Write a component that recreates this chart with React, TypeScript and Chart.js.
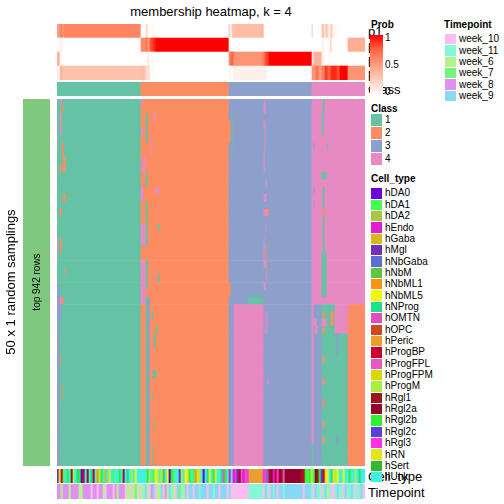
import React, { useEffect, useRef } from "react";
import { Chart, registerables } from "chart.js";
Chart.register(...registerables);

// ---------------- data ----------------
const TITLE = "membership heatmap, k = 4";
const N_COLS = 308;
const MAIN_ROWS = 50;

const classLabels = ["1", "2", "3", "4"];
const classColors = ["#66C2A5", "#FC8D62", "#8DA0CB", "#E78AC3"];
const classWidths = [84, 88, 83, 53];

const probRowNames = ["p1", "p2", "p3", "p4"];
// [startCol, endCol, probability]
const p1Segs = [
  [0, 3, 0.5], [3, 6, 0.62], [6, 7, 0.5], [7, 84, 0.62],
  [89, 91, 0.2], [96, 97, 0.08],
  [172, 173, 0.35], [173, 175, 0.05], [175, 177, 0.3], [177, 205, 0.35], [205, 207, 0.38],
  [255, 256, 0.3], [265, 267, 0.35], [267, 269, 0.15], [269, 271, 0.3], [271, 274, 0.1], [274, 276, 0.25], [276, 280, 0.05],
];
const p2Segs = [
  [3, 5, 0.08], [5, 7, 0.03],
  [84, 89, 0.6], [89, 91, 0.7], [91, 93, 0.5], [93, 96, 0.85], [96, 99, 0.95], [99, 172, 1.0],
  [172, 174, 0.05],
  [266, 267, 0.15], [273, 275, 0.2], [291, 308, 0.42],
];
const p3Segs = [
  [0, 3, 0.4], [3, 4, 0.1],
  [91, 92, 0.2], [95, 96, 0.08],
  [172, 174, 0.6], [174, 177, 0.75], [177, 205, 0.55], [205, 207, 0.6], [207, 209, 0.75], [209, 212, 0.9], [212, 255, 1.0],
  [255, 257, 0.1], [257, 265, 0.4], [265, 268, 0.05], [272, 273, 0.05],
];
const p4Segs = [
  [0, 1, 0.2], [1, 3, 0.02], [3, 6, 0.38], [6, 84, 0.32],
  [84, 88, 0.35], [88, 90, 0.25], [90, 91, 0.1], [91, 93, 0.2], [95, 96, 0.05],
  [173, 174, 0.1], [176, 210, 0.08],
  [255, 259, 0.55], [259, 262, 0.7], [262, 265, 0.5], [265, 268, 0.65], [268, 271, 0.9], [271, 274, 0.75],
  [274, 280, 0.95], [280, 283, 0.85], [283, 291, 1.0], [291, 308, 0.55],
];

// main membership grid: base class per column + patches [c0, c1, r0, r1, class]
const mainPatches = [
  [3, 5, 0, 1, 4], [3, 5, 2, 5, 4], [5, 7, 1, 2, 2], [0, 1, 5, 6, 4], [5, 7, 6, 8, 2], [6, 9, 8, 10, 2],
  [3, 5, 9, 10, 2], [0, 1, 11, 12, 3], [6, 9, 13, 14, 2], [3, 5, 15, 16, 2], [0, 1, 19, 22, 4], [3, 5, 19, 21, 2],
  [8, 9, 23, 24, 2], [0, 3, 25, 50, 3], [3, 5, 28, 30, 3], [3, 5, 27, 28, 4], [5, 7, 27, 28, 2], [3, 4, 35, 36, 2],
  [5, 6, 39, 41, 2],
  [84, 86, 0, 1, 4], [89, 91, 2, 5, 1], [97, 99, 2, 3, 4], [84, 86, 4, 5, 4], [89, 91, 5, 6, 1], [94, 95, 5, 8, 4],
  [85, 89, 8, 10, 4], [89, 91, 10, 12, 1], [98, 102, 12, 13, 4], [84, 87, 12, 14, 4], [89, 91, 14, 20, 1],
  [84, 89, 17, 20, 4], [101, 103, 17, 18, 1], [84, 89, 22, 28, 4], [89, 91, 22, 26, 1], [98, 99, 23, 25, 4],
  [101, 103, 24, 25, 1], [89, 91, 27, 50, 1], [91, 93, 27, 50, 3], [95, 97, 29, 30, 1], [99, 101, 31, 32, 1],
  [97, 99, 32, 34, 1], [96, 100, 37, 38, 1], [96, 97, 40, 41, 1], [97, 98, 44, 45, 1], [96, 97, 47, 50, 1],
  [172, 174, 3, 6, 2], [175, 176, 2, 8, 1], [207, 209, 0, 2, 4], [207, 209, 3, 4, 4], [208, 209, 4, 7, 4],
  [207, 208, 7, 10, 4], [209, 210, 11, 12, 4], [207, 210, 13, 14, 4], [207, 210, 15, 16, 4], [210, 212, 15, 16, 2],
  [209, 210, 17, 18, 4], [207, 208, 19, 22, 4], [209, 210, 20, 22, 2], [207, 210, 22, 23, 4], [210, 211, 23, 24, 2],
  [209, 210, 24, 25, 4], [207, 209, 25, 26, 4], [172, 174, 25, 27, 2], [191, 207, 27, 28, 1], [177, 207, 28, 50, 4],
  [208, 209, 29, 32, 4], [210, 211, 29, 32, 4], [211, 212, 38, 39, 4],
  [266, 268, 0, 2, 1], [265, 267, 2, 5, 1], [257, 258, 6, 7, 3], [270, 271, 6, 7, 1], [265, 270, 10, 11, 1],
  [257, 258, 12, 13, 3], [266, 268, 12, 27, 1], [266, 268, 15, 16, 2], [257, 258, 14, 15, 3], [265, 270, 21, 27, 1],
  [257, 265, 28, 50, 3], [265, 280, 28, 50, 1], [280, 291, 28, 32, 4], [280, 291, 32, 50, 1], [291, 308, 28, 50, 2],
  [291, 292, 28, 29, 4], [255, 257, 47, 50, 1], [279, 281, 32, 35, 3], [257, 260, 30, 31, 4], [258, 261, 31, 32, 4],
  [266, 268, 29, 30, 2], [265, 270, 30, 31, 4], [278, 280, 28, 32, 4], [274, 277, 29, 31, 2], [266, 268, 31, 32, 2],
  [266, 268, 35, 36, 2], [266, 268, 38, 39, 2], [266, 268, 41, 42, 2], [266, 268, 44, 45, 2], [266, 268, 46, 47, 2],
  [279, 281, 46, 47, 3],
];

const cellTypes = [
  "hDA0", "hDA1", "hDA2", "hEndo", "hGaba", "hMgl", "hNbGaba", "hNbM", "hNbML1", "hNbML5", "hNProg", "hOMTN", "hOPC",
  "hPeric", "hProgBP", "hProgFPL", "hProgFPM", "hProgM", "hRgl1", "hRgl2a", "hRgl2b", "hRgl2c", "hRgl3", "hRN", "hSert", "hUnk",
];
const cellTypeColors = [
  "#6E00DC", "#44FF55", "#A6C844", "#E31CD0", "#D9B81C", "#7030B8", "#5A6FD0", "#60C444", "#F79412", "#F2F80C", "#1EE08C",
  "#E04EC0", "#D2481E", "#E8A030", "#C8002E", "#E858C0", "#D8D800", "#A8F040", "#98181C", "#96002E", "#30F030", "#5A40DA",
  "#FF30E6", "#E2E41C", "#30B830", "#40F0E0",
];
// one letter per 2 samples (a = hDA0 ... z = hUnk)
const cellTypeSeq =
  "fxobzuzsrzkuaozs" + "zkoziruzezxzbzzuzozkzrzjz" + "zzzz" + "urzbjxzrhzjaubzzvrzjxuzbixrzazkjzuxz" +
  "zkpuzdz" + "dwfoldpw" + "nnnnnnn" + "wlgotdowtsl" + "tttttttt" + "souburbtsuvo" + "xjzkxrj" + "zzjzzuzzrzkzz";

const timepoints = ["week_10", "week_11", "week_6", "week_7", "week_8", "week_9"];
const timepointColors = ["#FBBCEE", "#84F7D6", "#B2F58C", "#74F57A", "#DE92F0", "#88D8F4"];
const timepointSeq =
  "eeceeeceeeecceee" + "eaeeaeecaeeeaeceeea" + "ccacdcacbfc" + "aefaccfaecfbcafdbcfa" + "ffaffbfffaffbffafffaf" +
  "aaaaaaaaa" + "bbbbbbb" + "afbafbfaffb" + "fffffffffafff" + "bafbbabfcbaabfbbafbbfbabbfa";

const samplingColor = "#7FC97F";
const probTicks = ["1", "0.5", "0"];

// ---------------- colour helpers ----------------
function toLin(c: number) { c /= 255; return c <= 0.04045 ? c / 12.92 : Math.pow((c + 0.055) / 1.055, 2.4); }
function fromLin(c: number) {
  const v = c <= 0.0031308 ? 12.92 * c : 1.055 * Math.pow(c, 1 / 2.4) - 0.055;
  return Math.round(Math.max(0, Math.min(1, v)) * 255);
}
function rgb2lab(r: number, g: number, b: number) {
  const R = toLin(r), G = toLin(g), B = toLin(b);
  let x = (R * 0.4124 + G * 0.3576 + B * 0.1805) / 0.95047;
  let y = R * 0.2126 + G * 0.7152 + B * 0.0722;
  let z = (R * 0.0193 + G * 0.1192 + B * 0.9505) / 1.08883;
  const f = (t: number) => (t > 0.008856 ? Math.cbrt(t) : 7.787 * t + 16 / 116);
  x = f(x); y = f(y); z = f(z);
  return [116 * y - 16, 500 * (x - y), 200 * (y - z)];
}
function lab2rgb(L: number, a: number, bb: number) {
  const fy = (L + 16) / 116, fx = fy + a / 500, fz = fy - bb / 200;
  const inv = (t: number) => (t ** 3 > 0.008856 ? t ** 3 : (t - 16 / 116) / 7.787);
  const x = inv(fx) * 0.95047, y = inv(fy), z = inv(fz) * 1.08883;
  const R = x * 3.2406 + y * -1.5372 + z * -0.4986;
  const G = x * -0.9689 + y * 1.8758 + z * 0.0415;
  const B = x * 0.0557 + y * -0.204 + z * 1.057;
  return `rgb(${fromLin(R)},${fromLin(G)},${fromLin(B)})`;
}
const LAB_W = rgb2lab(255, 255, 255);
const LAB_R = rgb2lab(255, 0, 0);
function probColor(p: number) {
  return lab2rgb(
    LAB_W[0] + (LAB_R[0] - LAB_W[0]) * p,
    LAB_W[1] + (LAB_R[1] - LAB_W[1]) * p,
    LAB_W[2] + (LAB_R[2] - LAB_W[2]) * p
  );
}

type Run = [number, number, string];
function toRuns(colors: string[]): Run[] {
  const out: Run[] = [];
  let start = 0;
  for (let c = 1; c <= colors.length; c++) {
    if (c === colors.length || colors[c] !== colors[start]) {
      out.push([start, c, colors[start]]);
      start = c;
    }
  }
  return out;
}
function probRow(segs: number[][]) {
  const arr = new Array(N_COLS).fill(0);
  segs.forEach(([a, b, p]) => { for (let c = a; c < b; c++) arr[c] = p; });
  return toRuns(arr.map(probColor));
}
function baseClasses() {
  const base: number[] = [];
  classWidths.forEach((w, i) => { for (let k = 0; k < w; k++) base.push(i); });
  return base;
}
function mainRuns(): Run[][] {
  const base = baseClasses();
  const grid = Array.from({ length: MAIN_ROWS }, () => base.slice());
  mainPatches.forEach(([c0, c1, r0, r1, cls]) => {
    for (let r = r0; r < r1; r++) for (let c = c0; c < c1; c++) grid[r][c] = cls - 1;
  });
  return grid.map((row) => toRuns(row.map((i) => classColors[i])));
}
function seqRuns(seq: string, palette: string[]): Run[] {
  const cols: string[] = [];
  for (const ch of seq) {
    const col = palette[ch.charCodeAt(0) - 97];
    cols.push(col, col);
  }
  return toRuns(cols);
}

// ---------------- chart panel ----------------
function HeatPanel(props: { runs: Run[][]; nCols: number; left: number; top: number; width: number; height: number }) {
  const ref = useRef<HTMLCanvasElement | null>(null);
  const { runs, nCols, left, top, width, height } = props;
  useEffect(() => {
    const nRows = runs.length;
    const data: any[] = [];
    const colors: string[] = [];
    runs.forEach((row, r) => row.forEach(([c0, c1, col]) => { data.push({ y: r + 0.5, x: [c0, c1] }); colors.push(col); }));
    const chart = new Chart(ref.current as HTMLCanvasElement, {
      type: "bar",
      data: {
        datasets: [{
          data, backgroundColor: colors, borderWidth: 0, barThickness: height / nRows,
          inflateAmount: 0.35, borderSkipped: false,
        } as any],
      },
      options: {
        indexAxis: "y", animation: false, responsive: false, events: [],
        layout: { padding: 0 },
        plugins: { legend: { display: false }, tooltip: { enabled: false }, title: { display: false } },
        scales: {
          x: { type: "linear", min: 0, max: nCols, display: false },
          y: { type: "linear", min: 0, max: nRows, reverse: true, offset: false, display: false },
        },
      } as any,
    });
    return () => chart.destroy();
  }, []);
  return (
    <canvas ref={ref} width={width} height={height}
      style={{ position: "absolute", left, top, width, height }} />
  );
}

const FONT = '"Liberation Sans", Arial, Helvetica, sans-serif';

function Txt(p: { x: number; y: number; text: string; size: number; bold?: boolean; anchor?: "start" | "middle"; rotate?: boolean; z?: number }) {
  const tr = p.rotate
    ? "translate(-50%,-50%) rotate(-90deg)"
    : p.anchor === "middle" ? "translate(-50%,-50%)" : "translateY(-50%)";
  return (
    <div style={{
      position: "absolute", left: p.x, top: p.y, transform: tr, fontFamily: FONT, fontSize: p.size,
      fontWeight: p.bold ? "bold" : "normal", whiteSpace: "nowrap", lineHeight: 1, color: "#000", zIndex: p.z ?? 1,
    }}>{p.text}</div>
  );
}

function LegendBoxes(p: { x: number; y: number; step: number; labels: string[]; colors: string[] }) {
  return (
    <>
      {p.labels.map((l, i) => (
        <React.Fragment key={l}>
          <div style={{ position: "absolute", left: p.x, top: p.y + i * p.step, width: 11, height: p.step - 1, background: p.colors[i], zIndex: 2 }} />
          <Txt x={p.x + 14} y={p.y + i * p.step + (p.step - 1) / 2} text={l} size={10} z={3} />
        </React.Fragment>
      ))}
    </>
  );
}

export default function App() {
  const probRuns = [p1Segs, p2Segs, p3Segs, p4Segs].map(probRow);
  const classRuns = [toRuns(baseClasses().map((i) => classColors[i]))];
  const main = mainRuns();
  const ctRuns = [seqRuns(cellTypeSeq, cellTypeColors)];
  const tpRuns = [seqRuns(timepointSeq, timepointColors)];
  const gradStops = [1, 0.75, 0.5, 0.25, 0].map((p, i) => `${probColor(p)} ${i * 25}%`).join(",");

  return (
    <div style={{ position: "absolute", left: 0, top: 0, width: 504, height: 504, background: "#fff", overflow: "hidden" }}>
      <Txt x={211} y={11} text={TITLE} size={13} anchor="middle" />

      <HeatPanel runs={probRuns} nCols={N_COLS} left={57} top={24} width={308} height={56} />
      <HeatPanel runs={classRuns} nCols={N_COLS} left={57} top={82} width={308} height={14} />
      <HeatPanel runs={main} nCols={N_COLS} left={57} top={99} width={308} height={367} />
      <HeatPanel runs={ctRuns} nCols={N_COLS} left={57} top={469} width={308} height={14} />
      <HeatPanel runs={tpRuns} nCols={N_COLS} left={57} top={484} width={308} height={15} />
      <HeatPanel runs={[[[0, 1, samplingColor]]]} nCols={1} left={23} top={99} width={27} height={367} />

      <Txt x={37} y={282} text="top 942 rows" size={10} rotate />
      <Txt x={10} y={282} text="50 x 1 random samplings" size={13} rotate />

      {probRowNames.map((n, i) => <Txt key={n} x={368} y={31 + i * 14} text={n} size={13} />)}
      <Txt x={368} y={89} text="Class" size={13} />
      <Txt x={368} y={476} text="Cell_type" size={13} />
      <Txt x={368} y={491.5} text="Timepoint" size={13} />

      {/* Prob legend */}
      <Txt x={371} y={25} text="Prob" size={10} bold z={3} />
      <div style={{ position: "absolute", left: 370, top: 35, width: 13, height: 60, background: `linear-gradient(to bottom, ${gradStops})`, zIndex: 2 }} />
      <Txt x={385} y={38} text={probTicks[0]} size={10} z={3} />
      <Txt x={385} y={64.5} text={probTicks[1]} size={10} z={3} />
      <Txt x={385} y={92} text={probTicks[2]} size={10} z={3} />

      {/* Timepoint legend */}
      <Txt x={444} y={25} text="Timepoint" size={10} bold z={3} />
      <LegendBoxes x={445} y={34} step={11.35} labels={timepoints} colors={timepointColors} />

      {/* Class legend */}
      <Txt x={371} y={109} text="Class" size={10} bold z={3} />
      <LegendBoxes x={371} y={114} step={13} labels={classLabels} colors={classColors} />

      {/* Cell type legend */}
      <Txt x={371} y={179} text="Cell_type" size={10} bold z={3} />
      <LegendBoxes x={371} y={188.3} step={11.35} labels={cellTypes} colors={cellTypeColors} />
    </div>
  );
}
